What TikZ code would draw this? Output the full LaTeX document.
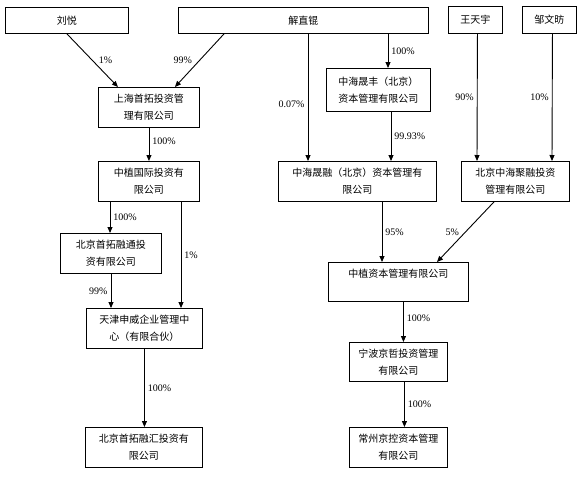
\documentclass[tikz,border=0pt]{standalone}
\usepackage{fontspec}
\setmainfont{Liberation Serif}
\newfontfamily\cjk{Noto Sans CJK SC}
\usetikzlibrary{arrows.meta}

\tikzset{
  ent/.style={draw, line width=0.9pt, inner sep=0pt, anchor=north west, align=center,
    font=\cjk\fontsize{10}{17}\selectfont},
  pct/.style={font=\fontsize{10}{11}\selectfont, inner sep=3pt},
  own/.style={line width=0.9pt, ->},
}

\begin{document}
\begin{tikzpicture}[x=1pt,y=-1pt,>={Triangle[length=6pt,width=5pt]}]
  \useasboundingbox (0,0) rectangle (580,477);
  % shareholders on top
  \node[ent,minimum width=123,minimum height=26] (liuyue) at (5,7) {刘悦};
  \node[ent,minimum width=250,minimum height=26] (xie) at (178,7) {解直锟};
  \node[ent,minimum width=54,minimum height=27] (wang) at (448,6) {王天宇};
  \node[ent,minimum width=54,minimum height=27] (zou) at (522,6) {邹文昉};
  % companies
  \node[ent,minimum width=101,minimum height=40] (shtz) at (98,87) {上海首拓投资管\\理有限公司};
  \node[ent,minimum width=104,minimum height=43] (shf) at (326,68) {中海晟丰（北京）\\资本管理有限公司};
  \node[ent,minimum width=101,minimum height=40] (zzgj) at (98,161) {中植国际投资有\\限公司};
  \node[ent,minimum width=158,minimum height=40] (shr) at (278,161) {中海晟融（北京）资本管理有\\限公司};
  \node[ent,minimum width=108,minimum height=40] (jr) at (461,161) {北京中海聚融投资\\管理有限公司};
  \node[ent,minimum width=101,minimum height=40] (rt) at (60,233) {北京首拓融通投\\资有限公司};
  \node[ent,minimum width=140,minimum height=39] (zzzb) at (328,262) {中植资本管理有限公司\\\mbox{}};
  \node[ent,minimum width=116,minimum height=40] (tj) at (86,308) {天津申威企业管理中\\心（有限合伙）};
  \node[ent,minimum width=98,minimum height=39] (nb) at (349,342) {宁波京哲投资管理\\有限公司};
  \node[ent,minimum width=117,minimum height=40] (rh) at (85,427) {北京首拓融汇投资有\\限公司};
  \node[ent,minimum width=98,minimum height=40] (cz) at (349,427) {常州京控资本管理\\有限公司};
  % holdings
  \draw[own] (liuyue.south) -- node[pct,midway,right,xshift=3] {1\%} ([xshift=-31]shtz.north);
  \draw[own] ([xshift=46]xie.south west) -- node[pct,midway,left,xshift=-4] {99\%} ([xshift=26]shtz.north);
  \draw[own] ([xshift=130]xie.south west) -- node[pct,pos=0.55,left] {0.07\%} ([xshift=30]shr.north west);
  \draw[own] ([xshift=210]xie.south west) -- node[pct,midway,right] {100\%} ([xshift=62]shf.north west);
  \draw[own] ([xshift=65]shf.south west) -- node[pct,midway,right] {99.93\%} ([xshift=113]shr.north west);
  \draw[own] ([xshift=2]wang.south) -- node[pct,midway,left] {90\%} ([xshift=16]jr.north west);
  \draw[own] ([xshift=3]zou.south) -- node[pct,midway,left] {10\%} ([xshift=91]jr.north west);
  \draw[own] (shtz.south) -- node[pct,pos=0.4,right] {100\%} (zzgj.north);
  \draw[own] ([xshift=12]zzgj.south west) -- node[pct,midway,right] {100\%} ([xshift=50]rt.north west);
  \draw[own] ([xshift=83]zzgj.south west) -- node[pct,midway,right] {1\%} ([xshift=95]tj.north west);
  \draw[own] ([xshift=51]rt.south west) -- node[pct,midway,left] {99\%} ([xshift=25]tj.north west);
  \draw[own] (tj.south) -- node[pct,midway,right] {100\%} (tj.south |- rh.north);
  \draw[own] ([xshift=104]shr.south west) -- node[pct,midway,right] {95\%} ([xshift=54]zzzb.north west);
  \draw[own] ([xshift=33]jr.south west) -- node[pct,midway,left,xshift=-3] {5\%} ([xshift=109]zzzb.north west);
  \draw[own] ([xshift=5]zzzb.south) -- node[pct,pos=0.4,right] {100\%} ([xshift=5]nb.north);
  \draw[own] ([xshift=6]nb.south) -- node[pct,midway,right] {100\%} ([xshift=6]cz.north);
\end{tikzpicture}
\end{document}
